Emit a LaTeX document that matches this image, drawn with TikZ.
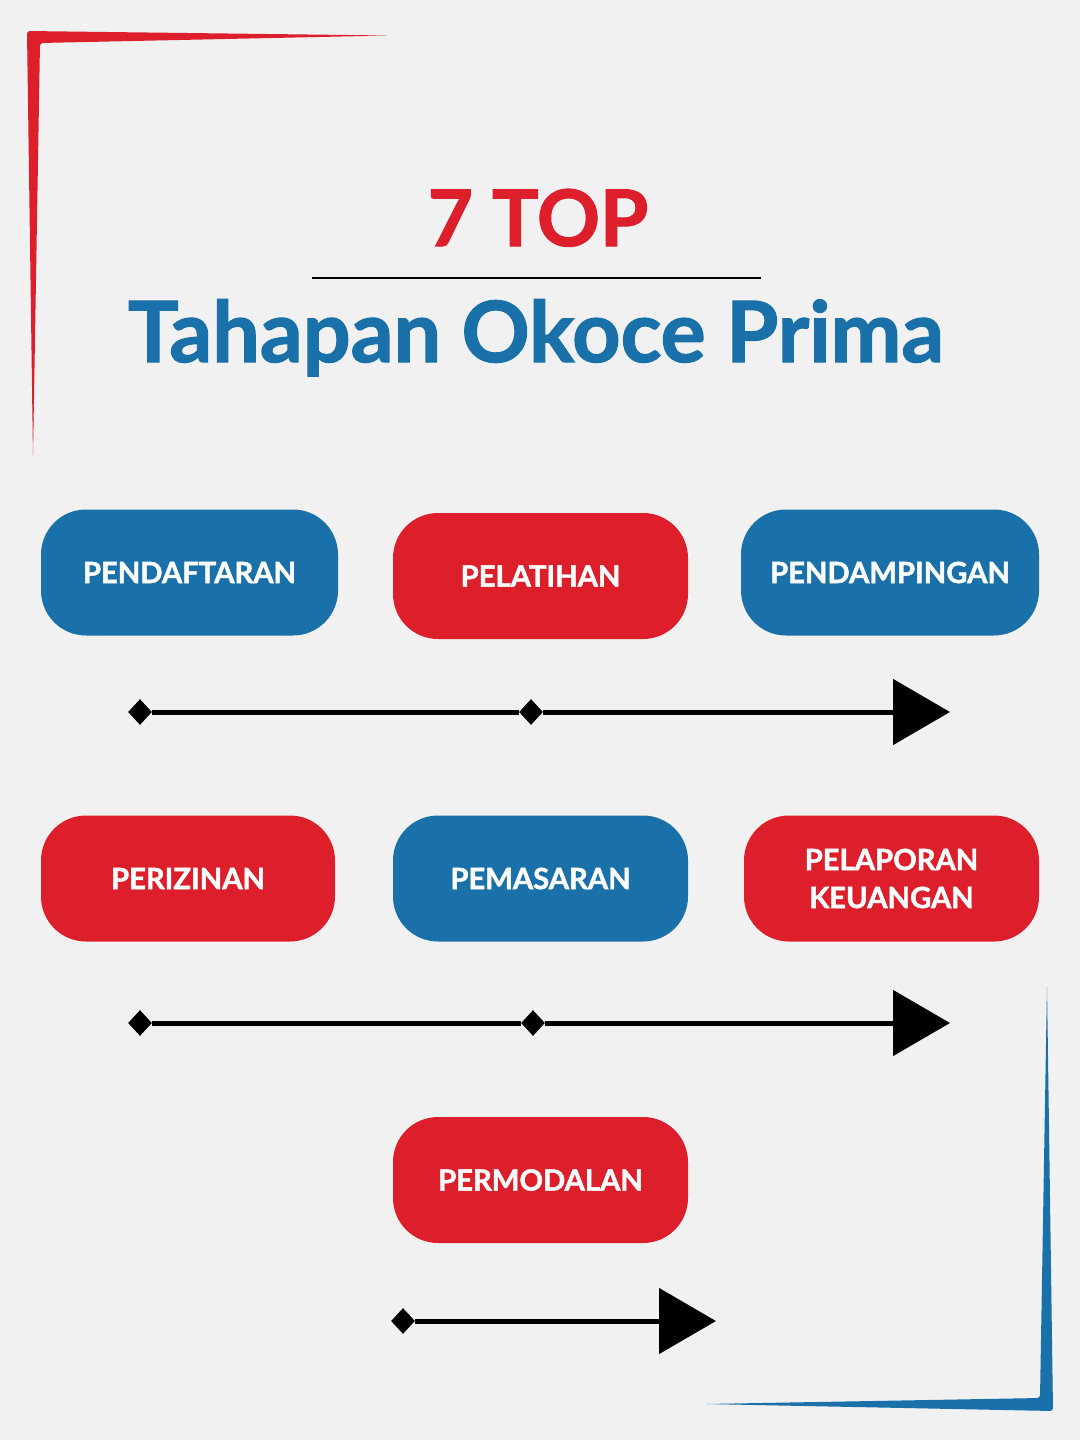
\documentclass[tikz,border=0pt]{standalone}
\usepackage{fontspec}
\setmainfont{Lato}[BoldFeatures={FakeBold=1.5}]
\usetikzlibrary{arrows.meta,shapes.geometric}
\definecolor{okblue}{RGB}{26,113,169}
\definecolor{okred}{RGB}{221,31,43}
\definecolor{paper}{RGB}{241,241,241}
\tikzset{
  stepbox/.style={rectangle, rounded corners=22.5pt, minimum width=148pt, minimum height=63pt,
    inner sep=0pt, text=white, font=\fontsize{14.6}{19}\selectfont\bfseries, align=center},
  bluebox/.style={stepbox, fill=okblue},
  redbox/.style={stepbox, fill=okred},
  tick/.style={diamond, fill=black, minimum width=12pt, minimum height=13pt, inner sep=0pt},
  flow/.style={line width=2.5pt, black},
  flowtip/.style={flow, -{Triangle[length=28.5pt,width=32.5pt]}}
}
\begin{document}
\begin{tikzpicture}[x=0.5pt,y=-0.5pt]
\useasboundingbox (0,0) rectangle (1080,1440);
\fill[paper] (0,0) rectangle (1080,1440);
% corner brackets
\fill[okred, rounded corners=1.5pt] (27,31) -- (388,35.5) -- (40,43) -- (33,457) -- cycle;
\fill[okblue, rounded corners=1.5pt] (1053,1411) -- (1047,985) -- (1040,1398) -- (705,1404) -- cycle;
% title
\node[anchor=base, text=okred, font=\fontsize{39}{42}\selectfont\bfseries, inner sep=0pt] (t1) at (538,246) {7 TOP};
\coordinate (r1) at (312,278);
\coordinate (r2) at (761,278);
\draw[line width=1.1pt] (r1) -- (r2);
\node[anchor=base, text=okblue, font=\fontsize{42.2}{45}\selectfont\bfseries, inner sep=0pt] (t2) at (536,362) {Tahapan Okoce Prima};
% boxes
\node[bluebox, minimum width=148.5pt] (b1) at (189.5,572.5) {PENDAFTARAN};
\node[redbox, minimum width=147.5pt] (b2) at (540.5,576) {PELATIHAN};
\node[bluebox, minimum width=149pt] (b3) at (890,572.5) {PENDAMPINGAN};
\node[redbox, minimum width=147pt] (b4) at (188,878.5) {PERIZINAN};
\node[bluebox, minimum width=147.5pt] (b5) at (540.5,878.5) {PEMASARAN};
\node[redbox, minimum width=147.5pt] (b6) at (891.5,878.5) {PELAPORAN\\KEUANGAN};
\node[redbox, minimum width=147.5pt] (b7) at (540.5,1180) {PERMODALAN};
% timelines
\node[tick] (d1) at (140,712) {};
\node[tick] (d2) at (531,712) {};
\coordinate (e1) at (950,712);
\node[tick] (d3) at (140,1023) {};
\node[tick] (d4) at (533,1023) {};
\coordinate (e2) at (950,1023);
\node[tick] (d5) at (403,1321) {};
\coordinate (e3) at (716,1321);
\draw[flow] (d1) -- (d2);
\draw[flowtip] (d2) -- (e1);
\draw[flow] (d3) -- (d4);
\draw[flowtip] (d4) -- (e2);
\draw[flowtip] (d5) -- (e3);
\end{tikzpicture}
\end{document}
